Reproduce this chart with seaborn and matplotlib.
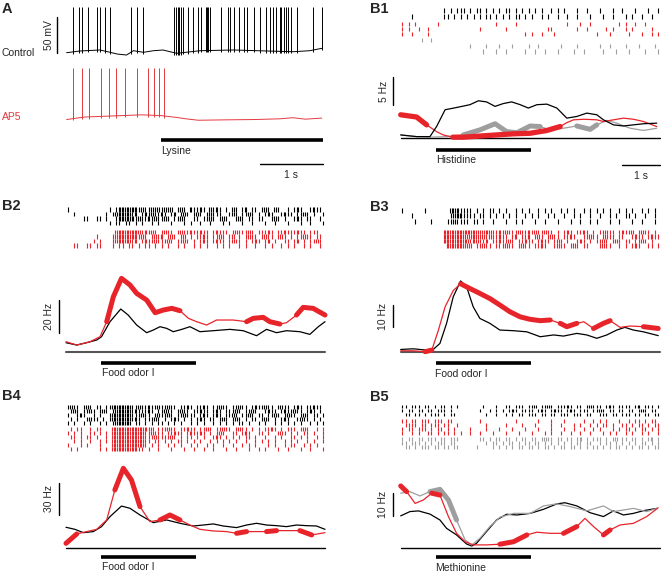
import numpy as np
import pandas as pd
import seaborn as sns
import matplotlib
matplotlib.use('Agg')
import matplotlib.pyplot as plt

sns.set_style('white')
plt.rcParams['font.family'] = ['Liberation Sans', 'DejaVu Sans']

W, H = 661, 575
RED = '#e8242b'
RED_A = '#e23a3f'
GRAY = '#9e9e9e'

# ---------------- panel A : intracellular traces ----------------
ctrl_spikes = [0.11, 0.20, 0.25, 0.35, 0.49, 0.54, 0.62, 0.70, 1.03, 1.12, 1.22,
               1.72, 1.74, 1.77, 1.80, 1.83, 1.86, 1.93, 2.02, 2.09, 2.15, 2.22,
               2.24, 2.26, 2.29, 2.46, 2.57, 2.61, 2.67, 2.75, 2.83, 2.88, 2.99,
               3.08, 3.17, 3.24, 3.28, 3.33, 3.39, 3.41, 3.46, 3.49, 3.53, 3.57,
               3.67, 3.92, 4.06]
ctrl_base_t = [0.01, 0.22, 0.54, 0.70, 0.81, 0.96, 1.07, 1.23, 1.39, 1.54, 1.65,
               1.76, 2.13, 2.66, 3.19, 3.61, 3.87, 4.06]
ctrl_base_mv = [-61.0, -58.6, -57.2, -60.4, -62.8, -64.2, -58.2, -60.4, -58.2,
                -57.2, -59.6, -61.8, -58.2, -57.2, -58.6, -59.6, -58.2, -54.9]
ap5_spikes = [0.11, 0.25, 0.37, 0.56, 0.69, 0.80, 0.94, 1.13, 1.30, 1.40, 1.48, 1.56]
ap5_base_t = [0.01, 0.3, 0.6, 0.9, 1.2, 1.5, 1.6, 1.75, 1.9, 2.1, 2.5, 3.0, 3.4,
              3.6, 3.8, 4.06]
ap5_base_mv = [-63.5, -60.0, -59.0, -58.0, -57.0, -58.0, -59.0, -60.5, -62.5,
               -64.5, -64.0, -63.5, -62.5, -61.0, -63.0, -61.5]
ctrl_peak = 2.5
ap5_peak = 7.5
lysine = (1.51, 4.08)

# ---------------- panels B : rasters ----------------
# one char = 7/80 s ; '|' one spike, ':' two spikes in that bin
BIN = 7 / 80
stim = (0.95, 3.52)

b1_ras_black = [
    ".......... ...|.|.||| .|.||.|.|. |.||.|.|.| .|.|..|.|. |...|..|.. .|...|..|. ..|...|..|",
    "...|...... ...||.|.|. |.|.|.||.| .|.|.||.|. |..|.|..|. .|..|...|. ..|..|...| .|..|..|..",
]
b1_ras_red = [
    "|.|.|..... .|........ .........| .....|.... .......... .|...|..|. .......|.| ..|..|....",
    "|.|..|..|. .......... ....|..... ..|....... .....||... ....|..|.. ...|.|...| .|.....|..",
    "|..|....|. .......... .......... ........|. |..|...|.. .......... |...|..... |...|..|.|",
]
b1_ras_gray = [
    "......|..|",
    ".......... .......... .|....|... |...|....| ..|......| ....|..... .|..|....| ...|....|.",
    ".......... .......... .....|...| ..|.....|. .|..|...|. ...|..|... ..|...|... |....|...|",
]
b2_ras_black = [
    "|......... ...|.|:::: ::|:||:|:| :|:.|:|.:| |:|.:|:|.| .:|.|:.||. |:|.:|..|. |:|..|:||.",
    "..|....... ..|.|::::: |:.|:|:||: |.|:.|:|.| :|.|:|||.. |:|.||:|.| .|:|..|:|| .||:|.|..|",
    ".....||..| |.|..|:::: :|:||:|:|| :|.||:|..| |.||:|.|:| ..|:|.||.| |..|:|.|.. |:|.||..|.",
    ".......... ...|.||.|| .|.|..|.|. ..|...|.|. .|..|...|. |...|..|.. .|..|...|. ..|..|...|",
]
b2_ras_red = [
    ".......... .....::::: :::|:|:|.| :||.|:||:| |:||.|:||| .|:|||:|.| ||:|.||:|| |:||.|||..",
    ".........| ....|::::: ::|:|.|:|: .|:|.|:.|. ||:|.||:|. |:.|.|:||. |:||.|:|.| .||:||.||.",
    "........|. |...|::::: |:.|:||:|| |:|.||:|.| .|:|.|:||. |:||.|.|:| .|:.|..||. |:.|.||:|.",
    "..||..||.| |...|.||.| |.|.||.|.| .|..|.|..| .|.|..|.|. |..|.|..|. .|.|..|.|. |..|.|..|.",
]
b3_ras_black = [
    "|......|.. .....:::|| ||.|.|.||. |.|..|.|.| ..|.|.|..| .|.|..|.|. |.|.|..|.| .|..|.|.|.",
    "...|...... .....|:::| |||.||.|.| .|.|.|..|. |.|..|.|.. |..|.|..|. .|..|.|..| |.|..|..|.",
    "....|....| ....||:||| |.||.|..|. ..|..|.|.. .|..|...|. ..|..|..|. |...|..|.. .|..|...|.",
]
b3_ras_red = [
    ".......... ...::::::: ::::|:::|| :|:|||:||: |:||:||.|. |:|.||:|.| .||:||.|:| |:.|:||.|.",
    ".......... ...::::::: |:::|:|:|| :||.|:.||: .|:|.|:||. ||:|..||:| |.|:||.||. .|:||.|:||",
    ".......... ...::::::: :|::||:.|| :||:|.||:| |.|:||.|:| .|..|:|.|. ||:|.|:|.| |.||:|.|..",
    ".......... ....:::::: |:.||:||.| ||:||.|:|| .||:|..|:| |.|:|.||.. .|:||..|.| .|:|..||.|",
]
b4_ras_black = [
    "|:||.|:|.| |.||:::::: ||:||:||:| |:||.||:|. ||:|.||:|| .||:||.|:| |:||.|:||. |:|.||:||.",
    ".|:|.||:|. |:|.|::::: |:|||:|.|| :||.|:||.| |:||.|:|.| ||:|.||:|. .|:||.|:|| :||.|:|.|.",
    "|..|:|..|. |..|:::::: |||:||.|:| |:|.||:||| .|:|.|:|.| |:|.||:|.| |.||:|.|:| |.|:|.||.|",
    ".|.|..|:|| .|.|:::::: |:|.|||:|. |.|:|.|.|. |:|.||.|:| .|:|.|.||. |:|.|.|:|. .|:||.|.|.",
    "|.|..|.|.. |.|.|::::: .||.|.|.|| .|.|.|..|. |.|..|.|.| .|.||.|..| .|..|.|.|. |.|..|.|.|",
]
b4_ras_red = [
    ".|.||..|.| |...:::::: :::::|:.|| |:||.||:|| .||:|.||:| |.|:||.|.| .||:|.|.|| |.|:|..|.|",
    "|.|.|..||. |.|.:::::: ::::||:||| .||:||.|:| |:|.|.|:|. .||.|:|..| |.|..|:|.| .|.||.|..|",
    ".||.|.||.| ..|.:::::: ::::|||:|| ||:|.|.||. |.|..|:|.| .|.|.||.|. .|..|.|..| |.|.|..|.|",
    "..|.|..|.. |.|.:::::: ::::||.||. |.|.||.|.| .|..|.|.|. |.|..|..|. |.|.|..|.| .|..|.|..|",
    "|...|.|... |...:::::: ::::|.|.|. .|.|.|..|. |..|.|..|. .|..|.|.|. ..|.|..|.| |..|.|.|..",
    ".|.|...... |.|.:::::: ::||.|..|. ..|...|..| ..|..|...| ..|...|..| .|...|..|. ..|..|...|",
]
b5_ras_black = [
    "||.|||.||. |.||.|.|.. .....|...| ..||.|||.| |:.||:|.|| |:|.||.|:| ||.|:|.||| |.|:.|||.|",
    "|.||.||.|| .|||.|.... ....|..|.| .|.|:|.||| |.|:|.|:|| .|:|.|||.| |:|.||.||. ||.|:|.||.",
    ".||.||.|.| ||.|.||... ......|..| ..|.|.||.| ||.||.||.| ||.|||.||. .|||.||.|| |.||.||.||",
]
b5_ras_red = [
    "||.||.|||. |||.||.... ....|..... .....|.... ..|...|... |.....|..| .|.|...|.. |.||.|.||.",
    ".||||.||.| ||.||..|.. ......|... ..|....|.. .|....|..| ...|.|..|. |.||.|..|| .|.||.|.||",
    "|.||.|||.| .||.|.|... .|....|... |...|...|. ..|...|... |..|..|..| .|...|.|.| |.|.||.|.|",
    "|..|.|..|| .|.||.|.|. .|..|...|. ..|...|... |...|.|..| ..|..|..|. ..|.|.|..| .|..|.|..|",
]
b5_ras_gray = [
    "|.||.||.|| |.||.|||.. ....||.|.| |.||.|.||. ||.|:||.|| .||.|:.|.| ||.|.|:.|| .||.|.|:.|",
    "||.|||.|.| .|||.||... ......|.|| .|.||.|.|| .||.|.|.|. |.|.||.||. .|.||.|.|. |.|.||.|.|",
    ".||.|.|||. ||.||.||.. ...|....|. |.|.|.||.| |.|.||.|.| |.||.|.|.| |.|.|.||.| .|.||.|.||",
]

# ---------------- panels B : firing rates (s, Hz) ----------------
b1_black_t = [0.00, 0.43, 0.79, 0.97, 1.20, 1.51, 1.87, 2.10, 2.32, 2.55, 2.77, 3.00,
              3.23, 3.45, 3.68, 3.95, 4.22, 4.49, 4.76, 5.03, 5.30, 5.48, 5.75, 6.02,
              6.29, 6.56, 6.92]
b1_black_hz = [0.6, 0.3, 0.3, 2.1, 5.1, 5.5, 6.0, 6.7, 6.5, 5.7, 6.2, 6.5, 6.0, 5.4,
               6.0, 6.1, 5.4, 3.6, 3.9, 4.5, 4.2, 3.3, 2.4, 2.2, 2.4, 2.6, 2.7]
b1_red_t = [0.00, 0.43, 0.70, 0.97, 1.15, 1.41, 1.69, 2.14, 2.59, 3.05, 3.50, 3.95,
            4.31, 4.49, 4.67, 4.95, 5.30, 5.48, 5.75, 6.02, 6.29, 6.56, 6.92]
b1_red_hz = [4.2, 3.8, 2.4, 1.2, 0.6, 0.2, 0.2, 0.4, 0.6, 0.8, 0.9, 1.4, 2.1, 2.8,
             3.3, 3.4, 3.3, 3.0, 3.3, 3.6, 3.4, 3.0, 2.1]
b1_red_thick = [(0.0, 0.7), (1.3, 4.35)]
b1_gray_t = [0.00, 0.43, 0.79, 1.24, 1.69, 2.14, 2.55, 2.86, 3.14, 3.50, 3.77, 4.04,
             4.40, 4.76, 5.12, 5.30, 5.57, 5.84, 6.20, 6.56, 6.92]
b1_gray_hz = [0.6, 0.3, 0.2, 0.3, 0.6, 1.5, 2.6, 1.2, 1.0, 2.2, 2.1, 1.5, 1.8, 2.2,
              1.6, 2.4, 3.2, 2.7, 1.8, 1.4, 1.8]
b1_gray_thick = [(1.6, 3.8), (4.7, 5.35)]

b2_black_t = [0.00, 0.29, 0.56, 0.83, 0.96, 1.19, 1.48, 1.68, 1.91, 2.18, 2.36, 2.54,
              2.72, 2.90, 3.13, 3.35, 3.62, 3.98, 4.43, 4.79, 5.15, 5.42, 5.69, 5.96,
              6.32, 6.59, 6.82, 7.00]
b2_black_hz = [5.4, 4.0, 5.4, 7.0, 9.0, 18.0, 25.6, 22.0, 16.0, 11.4, 13.0, 15.0,
               14.0, 12.0, 13.4, 15.0, 12.0, 12.6, 13.4, 12.6, 9.6, 13.4, 11.4, 12.6,
               12.0, 10.4, 15.0, 18.0]
b2_red_t = [0.00, 0.29, 0.65, 0.92, 1.10, 1.28, 1.50, 1.73, 1.91, 2.18, 2.41, 2.63,
            2.86, 3.08, 3.31, 3.53, 3.80, 4.07, 4.52, 4.88, 5.06, 5.33, 5.51, 5.78,
            5.96, 6.23, 6.41, 6.68, 7.00]
b2_red_hz = [6.0, 4.0, 6.0, 9.0, 18.0, 33.0, 44.0, 40.0, 35.0, 31.0, 23.4, 25.0,
             26.0, 24.6, 20.0, 18.0, 16.0, 19.0, 19.0, 18.0, 20.0, 20.6, 18.0, 16.6,
             17.4, 22.0, 26.6, 26.0, 22.0]
b2_red_thick = [(1.1, 3.1), (4.85, 5.9), (6.2, 7.0)]

b3_black_t = [0.00, 0.34, 0.70, 0.88, 1.06, 1.24, 1.42, 1.62, 1.78, 1.96, 2.14, 2.41,
              2.68, 3.05, 3.41, 3.77, 4.13, 4.40, 4.76, 5.03, 5.30, 5.57, 5.84, 6.06,
              6.29, 6.56, 6.96]
b3_black_hz = [1.0, 1.3, 0.7, 1.0, 3.7, 12.7, 24.6, 31.7, 29.1, 20.1, 14.9, 12.7,
               9.7, 9.4, 8.9, 6.7, 7.5, 7.0, 8.2, 7.5, 6.0, 7.5, 9.7, 10.9, 9.7, 8.9,
               7.2]
b3_red_t = [0.00, 0.34, 0.66, 0.84, 1.02, 1.20, 1.42, 1.62, 1.87, 2.14, 2.41, 2.68,
            2.95, 3.23, 3.50, 3.77, 4.04, 4.31, 4.49, 4.76, 4.95, 5.21, 5.48, 5.66,
            5.93, 6.20, 6.56, 6.96]
b3_red_hz = [0.4, 0.4, 0.0, 0.7, 9.7, 20.1, 27.4, 30.4, 28.3, 26.1, 23.8, 20.9, 17.9,
             15.6, 14.5, 13.9, 14.2, 12.7, 11.2, 12.7, 13.4, 10.4, 12.7, 13.9, 10.9,
             11.5, 11.2, 10.4]
b3_red_thick = [(0.6, 0.85), (1.6, 4.05), (4.3, 4.8), (5.2, 5.66), (6.5, 7.0)]

b4_black_t = [0.00, 0.24, 0.47, 0.74, 0.96, 1.19, 1.50, 1.73, 2.00, 2.36, 2.72, 3.08,
              3.44, 3.71, 3.98, 4.25, 4.61, 4.88, 5.15, 5.42, 5.69, 5.96, 6.23, 6.50,
              6.77, 7.00]
b4_black_hz = [19.5, 17.6, 14.5, 15.5, 20.1, 29.4, 39.2, 37.1, 30.9, 23.8, 26.3, 23.2,
               20.7, 21.6, 22.6, 20.7, 19.2, 21.6, 23.2, 21.6, 21.0, 20.1, 21.6, 21.0,
               20.7, 17.6]
b4_red_t = [0.00, 0.29, 0.56, 0.83, 1.10, 1.32, 1.55, 1.77, 2.00, 2.27, 2.54, 2.81,
            3.08, 3.35, 3.62, 3.98, 4.34, 4.61, 4.88, 5.15, 5.42, 5.69, 6.05, 6.32,
            6.64, 7.00]
b4_red_hz = [4.6, 13.3, 15.5, 17.6, 26.3, 54.1, 74.2, 63.3, 38.6, 24.7, 26.3, 30.9,
             26.3, 21.6, 17.6, 16.1, 15.5, 13.9, 15.5, 15.5, 15.5, 16.4, 16.4, 16.4,
             12.4, 14.5]
b4_red_thick = [(0.0, 0.3), (1.3, 2.0), (2.5, 3.1), (4.6, 4.9), (5.4, 5.7), (6.3, 6.9)]

b5_black_t = [0.00, 0.25, 0.48, 0.79, 1.06, 1.24, 1.51, 1.78, 1.92, 2.05, 2.32, 2.59,
              2.86, 3.14, 3.50, 3.86, 4.22, 4.44, 4.76, 5.12, 5.48, 5.75, 6.02, 6.29,
              6.56, 6.92]
b5_black_hz = [14.3, 16.2, 16.5, 15.1, 12.5, 8.8, 5.9, 1.9, 1.0, 2.2, 7.4, 12.5, 15.0,
               14.7, 15.4, 17.2, 19.6, 20.1, 18.7, 15.7, 14.0, 16.5, 14.7, 15.4, 16.6,
               17.6]
b5_gray_t = [0.00, 0.25, 0.52, 0.79, 1.06, 1.29, 1.51, 1.74, 1.92, 2.14, 2.41, 2.68,
             3.05, 3.50, 3.86, 4.22, 4.58, 5.03, 5.48, 5.75, 6.02, 6.29, 6.65, 6.92]
b5_gray_hz = [24.3, 25.0, 23.1, 25.0, 26.0, 21.3, 12.5, 3.7, 1.5, 4.4, 9.6, 13.7,
              15.4, 15.4, 18.7, 19.6, 18.4, 16.5, 18.7, 16.2, 16.9, 17.6, 16.2, 17.6]
b5_gray_thick = [(0.75, 1.55)]
b5_red_t = [0.00, 0.16, 0.39, 0.61, 0.84, 1.06, 1.29, 1.51, 1.74, 1.96, 2.32, 2.68,
            3.05, 3.41, 3.68, 4.04, 4.40, 4.76, 4.98, 5.21, 5.48, 5.66, 5.93, 6.29,
            6.65, 6.96]
b5_red_hz = [27.5, 25.0, 19.8, 21.3, 24.3, 23.5, 14.0, 6.6, 2.9, 1.5, 1.5, 1.8, 2.9,
             5.9, 7.1, 6.6, 6.6, 9.6, 13.2, 9.6, 5.9, 8.1, 10.3, 11.0, 14.0, 17.9]
b5_red_thick = [(0.0, 0.2), (0.84, 1.1), (2.6, 3.45), (4.2, 4.8), (5.45, 5.7)]


fig = plt.figure(figsize=(W / 100, H / 100), dpi=100)


def px_axes(l, t, r, b, x0, ppx, y0, ppy):
    # axes placed in pixel box; data x=0 at x0 px, data y=0 at y0 px
    ax = fig.add_axes([l / W, 1 - b / H, (r - l) / W, (b - t) / H])
    lims = ((l - x0) / ppx, (r - x0) / ppx), ((y0 - b) / ppy, (y0 - t) / ppy)
    ax.axis('off')
    return ax, lims


def fix(ax, lims):
    ax.set_xlim(*lims[0])
    ax.set_ylim(*lims[1])


def row_times(row):
    row = row.replace(' ', '')
    times = []
    for i, c in enumerate(row):
        if c == '|':
            times.append((i + 0.5) * BIN)
        elif c == ':':
            times += [(i + 0.25) * BIN, (i + 0.75) * BIN]
    return times


def raster(x0, groups):
    ax, lims = px_axes(x0 - 4, 0, x0 + 264, H, x0, 37.0, 0, -1)
    for rows, ys, color, length in groups:
        for row, y in zip(rows, ys):
            ax.vlines(row_times(row), y - length / 2, y + length / 2, color=color, lw=0.8)
    fix(ax, lims)


def rate(x0, zero, ppy, bar_y, curves, base_color='k', base_lw=1.0):
    ax, lims = px_axes(x0 - 8, zero - 110, x0 + 268, zero + 20, x0, 37.0, zero, ppy)
    ax.plot([0, 7], [0, 0], color=base_color, lw=base_lw, zorder=1)
    for t, hz, color, thick, lw_thick, z in curves:
        df = pd.DataFrame({'t': t, 'hz': hz})
        sns.lineplot(data=df, x='t', y='hz', ax=ax, color=color, lw=0.9,
                     estimator=None, sort=False, zorder=z)
        for a, b in thick:
            seg = df[(df['t'] >= a - 1e-9) & (df['t'] <= b + 1e-9)]
            sns.lineplot(data=seg, x='t', y='hz', ax=ax, color=color, lw=lw_thick,
                         estimator=None, sort=False, zorder=z,
                         solid_capstyle='round', solid_joinstyle='round')
    yb = (zero - bar_y) / ppy
    ax.plot(stim, [yb, yb], color='k', lw=2.6, solid_capstyle='butt')
    fix(ax, lims)


# ---- A
MVPX = 0.72
for spikes, bt, bmv, peak, color, base_px in [
        (ctrl_spikes, ctrl_base_t, ctrl_base_mv, ctrl_peak, 'k', 52),
        (ap5_spikes, ap5_base_t, ap5_base_mv, ap5_peak, RED_A, 117)]:
    y0 = base_px - 60 * MVPX
    ax, lims = px_axes(60, base_px - 55, 330, base_px + 12, 66, 63.0, y0, MVPX)
    sns.lineplot(x=bt, y=bmv, ax=ax, color=color, lw=0.7, estimator=None, sort=False)
    base_at = np.interp(spikes, bt, bmv)
    ax.vlines(spikes, base_at - 2.5, peak, color=color, lw=0.7)
    fix(ax, lims)

ax, lims = px_axes(60, 130, 330, 150, 66, 63.0, 140, 1)
ax.plot(lysine, [0, 0], color='k', lw=2.6, solid_capstyle='butt')
fix(ax, lims)

# ---- B rasters
raster(400.7, [(b1_ras_black, [10, 16.5], 'k', 5),
               (b1_ras_red, [24, 29, 34], RED, 4.5),
               (b1_ras_gray, [40, 46, 51.5], GRAY, 4.5)])
raster(66, [(b2_ras_black, [209.5, 214, 218.5, 223], 'k', 4.4),
            (b2_ras_red, [232, 236.5, 241, 245.5], RED, 4.4)])
raster(400.7, [(b3_ras_black, [210, 215.5, 221], 'k', 5),
               (b3_ras_red, [232, 236.5, 241, 245.5], RED, 4.4)])
raster(66, [(b4_ras_black, [407, 411, 415, 419, 423], 'k', 4),
            (b4_ras_red, [428.5, 432.5, 436.5, 440.5, 444.5, 448.5], RED, 4)])
raster(400.7, [(b5_ras_black, [406.5, 410.5, 414.5], 'k', 3.8),
               (b5_ras_red, [421, 425, 429, 433], RED, 3.8),
               (b5_ras_gray, [439, 443, 447], GRAY, 3.8)])

# ---- B rates
rate(400.7, 138.3, 5.6, 149.5, [
    (b1_gray_t, b1_gray_hz, GRAY, b1_gray_thick, 3.6, 2),
    (b1_red_t, b1_red_hz, RED, b1_red_thick, 3.8, 3),
    (b1_black_t, b1_black_hz, 'k', [], 1, 4)])
rate(66, 351.7, 1.667, 362.7, [
    (b2_black_t, b2_black_hz, 'k', [], 1, 2),
    (b2_red_t, b2_red_hz, RED, b2_red_thick, 3.6, 3)], base_color='#555555', base_lw=1.5)
rate(400.7, 351.7, 2.233, 363.3, [
    (b3_black_t, b3_black_hz, 'k', [], 1, 2),
    (b3_red_t, b3_red_hz, RED, b3_red_thick, 3.6, 3)], base_color='#555555', base_lw=1.5)
rate(66, 548.3, 1.078, 556.7, [
    (b4_black_t, b4_black_hz, 'k', [], 1, 2),
    (b4_red_t, b4_red_hz, RED, b4_red_thick, 3.6, 3)])
rate(400.7, 548.3, 2.267, 556.7, [
    (b5_black_t, b5_black_hz, 'k', [], 1, 2),
    (b5_gray_t, b5_gray_hz, GRAY, b5_gray_thick, 3.6, 3),
    (b5_red_t, b5_red_hz, RED, b5_red_thick, 3.6, 4)])

# ---- labels, scale bars (pixel overlay)
ov = fig.add_axes([0, 0, 1, 1])
ov.set_xlim(0, W)
ov.set_ylim(H, 0)
ov.axis('off')

for lab, x, y in [('A', 2, 9), ('B1', 370, 9), ('B2', 2, 206), ('B3', 370, 207),
                  ('B4', 2, 396), ('B5', 370, 397)]:
    ov.text(x, y, lab, fontsize=10.5, fontweight='bold', va='center', ha='left')

ov.text(2, 53, 'Control', fontsize=7.5, va='center')
ov.text(2, 117, 'AP5', fontsize=7.5, va='center', color=RED_A)
ov.plot([57, 57], [17, 53], color='k', lw=1)
ov.text(49, 35, '50 mV', fontsize=7.5, rotation=90, va='center', ha='center')
ov.text(161, 151, 'Lysine', fontsize=7.5, va='center')
ov.plot([260, 323], [164, 164], color='k', lw=1)
ov.text(291, 175, '1 s', fontsize=7.5, va='center', ha='center')

ov.plot([393, 393], [77, 105], color='k', lw=1)
ov.text(384, 91, '5 Hz', fontsize=7.5, rotation=90, va='center', ha='center')
ov.text(436, 160, 'Histidine', fontsize=7.5, va='center')
ov.plot([622, 660], [165, 165], color='k', lw=1)
ov.text(641, 176, '1 s', fontsize=7.5, va='center', ha='center')

for x, y1, y2, txt in [(59, 300, 333, '20 Hz'), (393, 305, 327, '10 Hz'),
                       (59, 483, 515, '30 Hz'), (393, 493, 516, '10 Hz')]:
    ov.plot([x, x], [y1, y2], color='k', lw=1)
    ov.text(x - 10, (y1 + y2) / 2, txt, fontsize=7.5, rotation=90, va='center', ha='center')

ov.text(102, 373, 'Food odor I', fontsize=7.5, va='center')
ov.text(435, 374, 'Food odor I', fontsize=7.5, va='center')
ov.text(102, 567, 'Food odor I', fontsize=7.5, va='center')
ov.text(435, 568, 'Methionine', fontsize=7.5, va='center')

fig.savefig('out.png', dpi=100)
